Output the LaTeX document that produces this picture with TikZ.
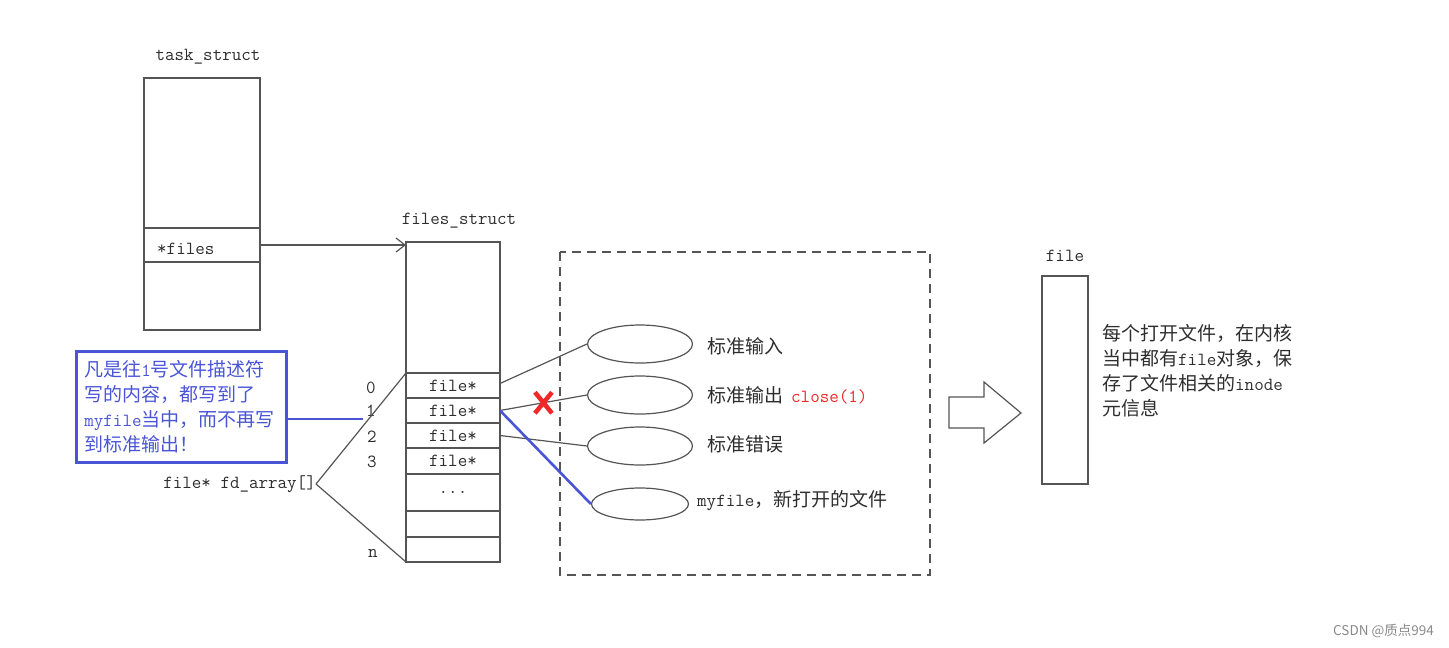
\documentclass[tikz,border=0pt]{standalone}
\usepackage{fontspec}
\newfontfamily\cjk{Noto Sans CJK SC}
\usetikzlibrary{shapes.geometric,arrows.meta}
\definecolor{ink}{HTML}{2E2E2E}
\definecolor{linec}{HTML}{555555}
\definecolor{noteblue}{HTML}{4A55D6}
\definecolor{redmark}{HTML}{F02828}
\definecolor{wm}{HTML}{8A8A8A}
\newcommand\monof{\ttfamily\fontsize{18.5}{25}\selectfont}
\newcommand\cjkf{\cjk\fontsize{19}{25}\selectfont}
\newcommand\mt[1]{{\monof #1}}
\tikzset{
  box/.style={draw=linec, line width=1.3pt, inner sep=0pt, outer sep=0pt, anchor=north west},
  mono/.style={font=\monof, text=ink, inner sep=0pt},
  cjktext/.style={font=\cjkf, text=ink, inner sep=0pt},
  ell/.style={draw=linec, line width=1.2pt, ellipse, inner sep=0pt, minimum width=105, minimum height=38},
  link/.style={draw=linec, line width=1.2pt},
  bluelink/.style={draw=noteblue, line width=2.6pt},
  notebox/.style={draw=noteblue, line width=2.8pt, anchor=north west, align=left,
    text width=194, inner xsep=8pt, minimum height=111, font=\cjkf, text=noteblue},
}
\begin{document}
\begin{tikzpicture}[x=1pt, y=-1pt]
\useasboundingbox (0,0) rectangle (1449,648);

% task_struct
\node[mono] (tslabel) at (208,57) {task\_struct};
\node[box, minimum width=116, minimum height=150] (tstop) at (144,78) {};
\node[box, minimum width=116, minimum height=34] (tsf) at (144,228) {};
\node[box, minimum width=116, minimum height=68] (tsbot) at (144,262) {};
\node[mono, anchor=west] (tsflabel) at (157,249) {*files};

% files_struct and its fd array
\node[mono] (fslabel) at (459,221) {files\_struct};
\node[box, minimum width=94, minimum height=131] (fs) at (406,242) {};
\node[box, mono, minimum width=94, minimum height=25] (r0) at (406,373) {file*};
\node[box, mono, minimum width=94, minimum height=25] (r1) at (406,398) {file*};
\node[box, mono, minimum width=94, minimum height=25] (r2) at (406,423) {file*};
\node[box, mono, minimum width=94, minimum height=26] (r3) at (406,448) {file*};
\node[box, mono, minimum width=94, minimum height=37] (rd) at (406,474) {...};
\node[box, minimum width=94, minimum height=26] (r5) at (406,511) {};
\node[box, minimum width=94, minimum height=25] (rn) at (406,537) {};

\draw[link, -{Straight Barb[length=9pt,width=14pt]}] (tsf.east) -- (tsf.east -| fs.west);

% indices
\node[mono] (i0) at (371,388) {0};
\node[mono] (i1) at (371,411) {1};
\node[mono] (i2) at (372,437) {2};
\node[mono] (i3) at (372,462) {3};
\node[mono] (in) at (373,553) {n};
\node[mono, anchor=east] (fd) at (316,484) {file* fd\_array[]};
\draw[link] (fd.east) -- (r0.north west);
\draw[link] (fd.east) -- (rn.south west);

% note
\node[notebox] (note) at (75,350) {凡是往\mt{1}号文件描述符\\写的内容，都写到了\\\mt{myfile}当中，而不再写\\到标准输出！};
\coordinate (notetip) at (363,419);
\draw[bluelink] (note.east |- notetip) -- (notetip);

% opened files
\draw[linec, line width=1.2pt, dash pattern=on 9pt off 6pt] (560,252) rectangle (930,575);
\node[ell] (e1) at (640,344) {};
\node[ell] (e2) at (640,395) {};
\node[ell] (e3) at (640,446) {};
\node[ell, minimum width=97, minimum height=32] (e4) at (640,504) {};
\node[cjktext, anchor=west] (t1) at (707,346) {标准输入};
\node[cjktext, anchor=west] (t2) at (707,395) {标准输出\hspace{8pt}{\monof\color{redmark}close(1)}};
\node[cjktext, anchor=west] (t3) at (707,444) {标准错误};
\node[cjktext, anchor=west] (t4) at (697,501) {\mt{myfile}，新打开的文件};

\draw[link] (r0.east) ++(0,-2) -- (e1.west);
\draw[link] (r1.east) -- (e2.west) coordinate[pos=0.5] (cut);
\draw[link] (r2.east) -- (e3.west);
\draw[bluelink] (r1.east) -- (e4.west);
\draw[redmark, line width=4.5pt] ([shift={(-8.5,-10.5)}]cut) -- ([shift={(8.5,10.5)}]cut)
                               ([shift={(8.5,-10.5)}]cut) -- ([shift={(-8.5,10.5)}]cut);

% hollow block arrow
\draw[linec, line width=1.2pt] (949,397) -- (984,397) -- (984,382) -- (1021,413)
   -- (984,443) -- (984,428) -- (949,428) -- cycle;

% file object
\node[mono] (filelabel) at (1065,256) {file};
\node[box, minimum width=46, minimum height=208] (fileobj) at (1042,276) {};
\node[cjktext, anchor=north west, align=left] (fileinfo) at (1102,324)
  {每个打开文件，在内核\\当中都有\mt{file}对象，保\\存了文件相关的\mt{inode}\\元信息};

% watermark
\node[font=\cjk\fontsize{13.5}{16}\selectfont, text=wm, anchor=east, inner sep=0pt] (wmark) at (1434,631) {CSDN @质点994};
\end{tikzpicture}
\end{document}
